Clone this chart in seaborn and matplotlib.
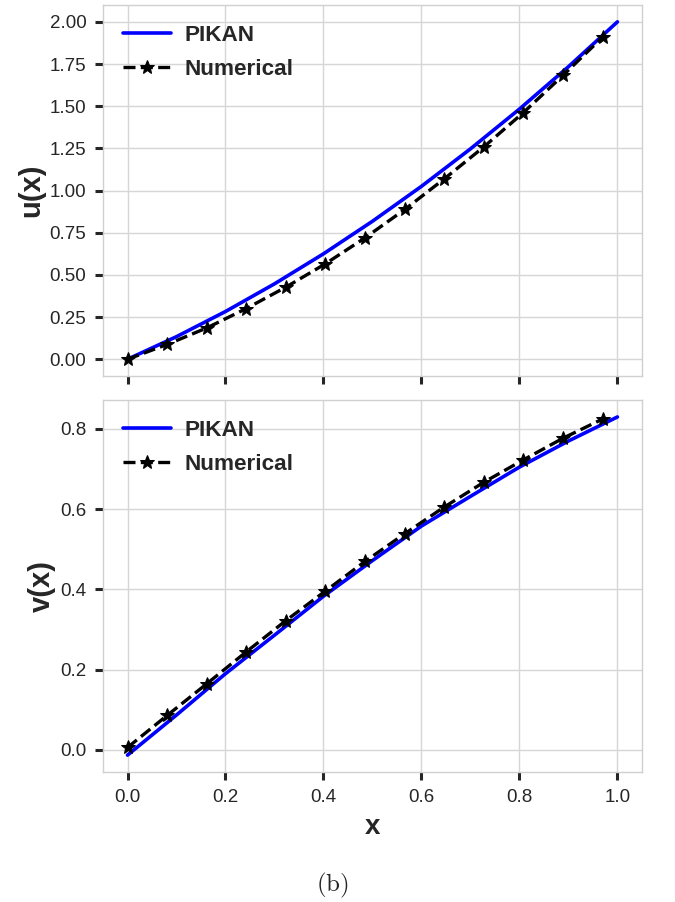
import numpy as np
import pandas as pd
import matplotlib
matplotlib.use("Agg")
import matplotlib.pyplot as plt
import seaborn as sns

# ---- data ----
x_pikan = [0.0, 0.1, 0.2, 0.3, 0.4, 0.5, 0.6, 0.7, 0.8, 0.9, 1.0]
u_pikan = [0.0, 0.134, 0.283, 0.447, 0.625, 0.818, 1.025, 1.247, 1.483, 1.734, 2.0]
v_pikan = [-0.013, 0.087, 0.190, 0.286, 0.383, 0.472, 0.558, 0.632, 0.705, 0.770, 0.830]

x_num = [0.0, 0.081, 0.162, 0.242, 0.323, 0.404, 0.485, 0.566, 0.646, 0.727, 0.808, 0.889, 0.970]
u_num = [0.0, 0.088, 0.186, 0.300, 0.427, 0.566, 0.720, 0.888, 1.068, 1.258, 1.462, 1.683, 1.910]
v_num = [0.006, 0.086, 0.165, 0.244, 0.322, 0.396, 0.470, 0.539, 0.605, 0.667, 0.723, 0.777, 0.825]

x_ticks = [0.0, 0.2, 0.4, 0.6, 0.8, 1.0]
u_ticks = [0.0, 0.25, 0.5, 0.75, 1.0, 1.25, 1.5, 1.75, 2.0]
v_ticks = [0.0, 0.2, 0.4, 0.6, 0.8]

sns.set_style("whitegrid", {
    "xtick.bottom": True, "ytick.left": True,
    "axes.edgecolor": "#d0d0d0", "grid.color": "#d6d6d6",
})
plt.rcParams["font.family"] = ["Liberation Sans", "DejaVu Sans"]
plt.rcParams["mathtext.fontset"] = "cm"

fig = plt.figure(figsize=(6.75, 9.02), dpi=100)
ax1 = fig.add_axes([0.1526, 0.583, 0.7984, 0.4115])
ax2 = fig.add_axes([0.1526, 0.1441, 0.7984, 0.4124])

pik = pd.DataFrame({"x": x_pikan, "u": u_pikan, "v": v_pikan})
num = pd.DataFrame({"x": x_num, "u": u_num, "v": v_num})

for ax, col, lab, ticks in [(ax1, "u", "u(x)", u_ticks), (ax2, "v", "v(x)", v_ticks)]:
    sns.lineplot(data=pik, x="x", y=col, ax=ax, color="blue", lw=2.6,
                 label="PIKAN", estimator=None, sort=False)
    sns.lineplot(data=num, x="x", y=col, ax=ax, color="black", lw=2.4,
                 linestyle=(0, (3.6, 1.6)), marker="*", markersize=10,
                 markeredgecolor="black", markerfacecolor="black",
                 label="Numerical", estimator=None, sort=False)
    ax.set_xticks(x_ticks)
    ax.set_yticks(ticks)
    ax.set_ylabel(lab, fontsize=21, fontweight="bold", labelpad=3)
    ax.tick_params(axis="both", which="major", length=6, width=2.2,
                   color="#262626", labelsize=13.5, labelcolor="#262626", pad=6)
    ax.grid(True, lw=1.0)
    for s in ax.spines.values():
        s.set_linewidth(1.0)
    leg = ax.legend(loc="upper left", frameon=False, fontsize=16.2,
                    handlelength=2.1, borderaxespad=0.5, labelspacing=0.55,
                    handletextpad=0.6)
    for t in leg.get_texts():
        t.set_fontweight("bold")
        t.set_color("#262626")

ax1.set_xlabel("")
ax1.set_xticklabels([])
ax1.set_yticklabels([f"{t:.2f}" for t in u_ticks])
ax2.set_yticklabels([f"{t:.1f}" for t in v_ticks])
ax2.set_xticklabels([f"{t:.1f}" for t in x_ticks])
ax2.set_xlabel("x", fontsize=20, fontweight="bold", labelpad=6)
ax1.yaxis.label.set_color("#262626")
ax2.yaxis.label.set_color("#262626")
ax2.xaxis.label.set_color("#262626")

fig.text(0.493, 0.012, r"$\mathrm{(b)}$", fontsize=18, ha="center", va="baseline")

fig.savefig("out.png", dpi=100)
